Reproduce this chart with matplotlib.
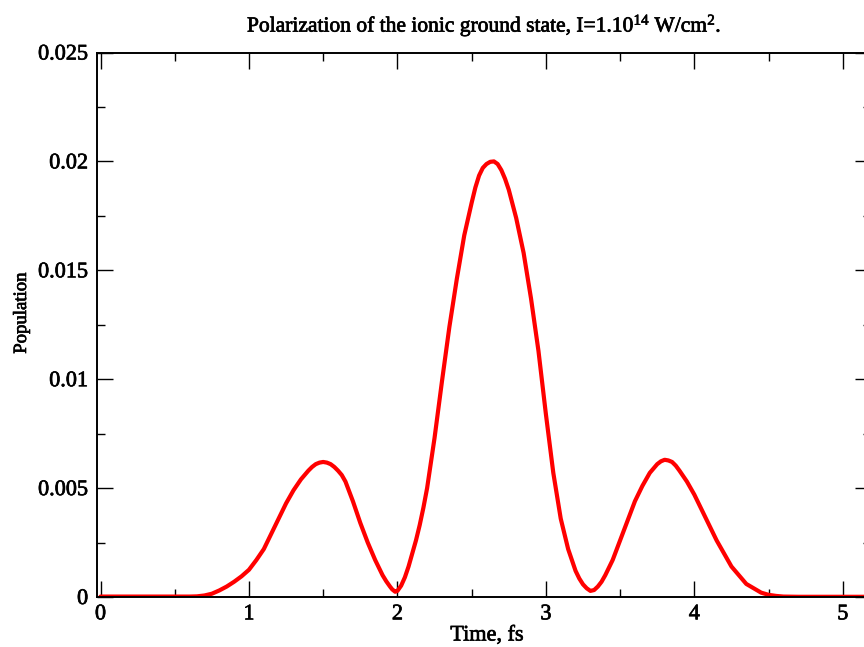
import matplotlib
matplotlib.use("Agg")
from matplotlib import pyplot as plt
from matplotlib import patheffects
from matplotlib.ticker import MultipleLocator, FuncFormatter

# population curve (time in fs)
time_fs = [0.00, 0.10, 0.20, 0.30, 0.40, 0.50, 0.60, 0.65, 0.70, 0.75,
           0.80, 0.85, 0.90, 0.95, 1.00, 1.05, 1.10, 1.15, 1.20, 1.25,
           1.30, 1.35, 1.375, 1.40, 1.425, 1.45, 1.475, 1.50, 1.525, 1.55,
           1.575, 1.60, 1.625, 1.65, 1.70, 1.75, 1.80, 1.85, 1.90, 1.925,
           1.95, 1.965, 1.985, 2.00, 2.025, 2.05, 2.075, 2.10, 2.125, 2.15,
           2.175, 2.20, 2.25, 2.30, 2.35, 2.40, 2.45, 2.50, 2.525, 2.55,
           2.575, 2.60, 2.625, 2.65, 2.675, 2.70, 2.725, 2.75, 2.80, 2.85,
           2.90, 2.95, 3.00, 3.05, 3.10, 3.15, 3.20, 3.225, 3.25, 3.275,
           3.30, 3.325, 3.35, 3.375, 3.40, 3.45, 3.50, 3.55, 3.60, 3.65,
           3.70, 3.725, 3.75, 3.775, 3.80, 3.825, 3.85, 3.875, 3.90, 3.95,
           4.00, 4.05, 4.10, 4.15, 4.20, 4.25, 4.30, 4.35, 4.40, 4.45,
           4.50, 4.55, 4.60, 4.70, 4.80, 5.00, 5.20]
population = [0.00002, 0.00002, 0.00002, 0.00002, 0.00002, 0.00002, 0.00002, 0.00003, 0.00007, 0.00015,
              0.0003, 0.00048, 0.0007, 0.00095, 0.00125, 0.0017, 0.0022, 0.0029, 0.0036, 0.0043,
              0.0049, 0.0054, 0.0056, 0.0058, 0.00597, 0.0061, 0.00617, 0.0062, 0.00617, 0.0061,
              0.00597, 0.0058, 0.0056, 0.0053, 0.0044, 0.0034, 0.0025, 0.0017, 0.0010, 0.00072,
              0.00048, 0.00035, 0.00024, 0.00028, 0.00052, 0.0009, 0.0014, 0.0020, 0.0026, 0.0033,
              0.0041, 0.0050, 0.0073, 0.0099, 0.0124, 0.0146, 0.0166, 0.0181, 0.0188, 0.01935,
              0.0197, 0.01988, 0.01998, 0.0200, 0.01988, 0.0196, 0.0192, 0.0187, 0.0174, 0.0158,
              0.0137, 0.0113, 0.0084, 0.0057, 0.0036, 0.0022, 0.0012, 0.00085, 0.00058, 0.0004,
              0.00028, 0.00032, 0.00048, 0.0007, 0.0010, 0.0017, 0.0026, 0.0035, 0.0044, 0.0051,
              0.0057, 0.0059, 0.0061, 0.00623, 0.0063, 0.00627, 0.0062, 0.00603, 0.0058, 0.0053,
              0.0047, 0.0040, 0.0033, 0.0026, 0.0020, 0.0014, 0.0010, 0.0006, 0.0004, 0.0002,
              0.0001, 0.00005, 0.00002, 0.00001, 0.00001, 0.00001, 0.00001]

plt.rcParams['font.family'] = ['Liberation Serif', 'DejaVu Serif']
plt.rcParams['mathtext.fontset'] = 'custom'
plt.rcParams['mathtext.rm'] = 'Liberation Serif'
plt.rcParams['mathtext.default'] = 'regular'

# the reference text is a bit heavier than Liberation Serif regular
heavy = [patheffects.withStroke(linewidth=0.5, foreground='black')]

fig = plt.figure(figsize=(8.64, 6.47), dpi=100)
ax = fig.add_axes([96.5 / 864, 50 / 647, (871 - 96.5) / 864, 544.5 / 647])

ax.plot(time_fs, population, color='red', lw=3.0, solid_capstyle='round', solid_joinstyle='round')

ax.set_xlim(-0.027, 5.19)
ax.set_ylim(0, 0.025)
ax.xaxis.set_major_locator(MultipleLocator(1))
ax.xaxis.set_minor_locator(MultipleLocator(0.5))
ax.yaxis.set_major_locator(MultipleLocator(0.005))
ax.yaxis.set_minor_locator(MultipleLocator(0.0025))
ax.yaxis.set_major_formatter(FuncFormatter(lambda v, p: '0' if v == 0 else '%g' % round(v, 4)))

ax.tick_params(which='both', direction='in', top=True, right=True, width=1.0, labelsize=16)
ax.tick_params(which='major', length=11.5, pad=6)
ax.tick_params(which='minor', length=5.8)
for s in ax.spines.values():
    s.set_linewidth(1.4)

ax.set_xlabel('Time, fs', fontsize=16)
ax.xaxis.set_label_coords((487 - 96.5) / (871 - 96.5), -(636 - 597) / 544.5)
ax.xaxis.label.set_va('center')
ax.set_ylabel('Population', fontsize=13.5)
ax.yaxis.set_label_coords(-(96.5 - 21.5) / (871 - 96.5), (597 - 313) / 544.5)
ax.yaxis.label.set_va('center')
ax.set_title('Polarization of the ionic ground state, I=1.10$^{14}$ W/cm$^{2}$.', fontsize=15.5, pad=15)

for t in ax.get_xticklabels() + ax.get_yticklabels() + [ax.xaxis.label, ax.yaxis.label, ax.title]:
    t.set_path_effects(heavy)

fig.savefig('out.png', dpi=100)
